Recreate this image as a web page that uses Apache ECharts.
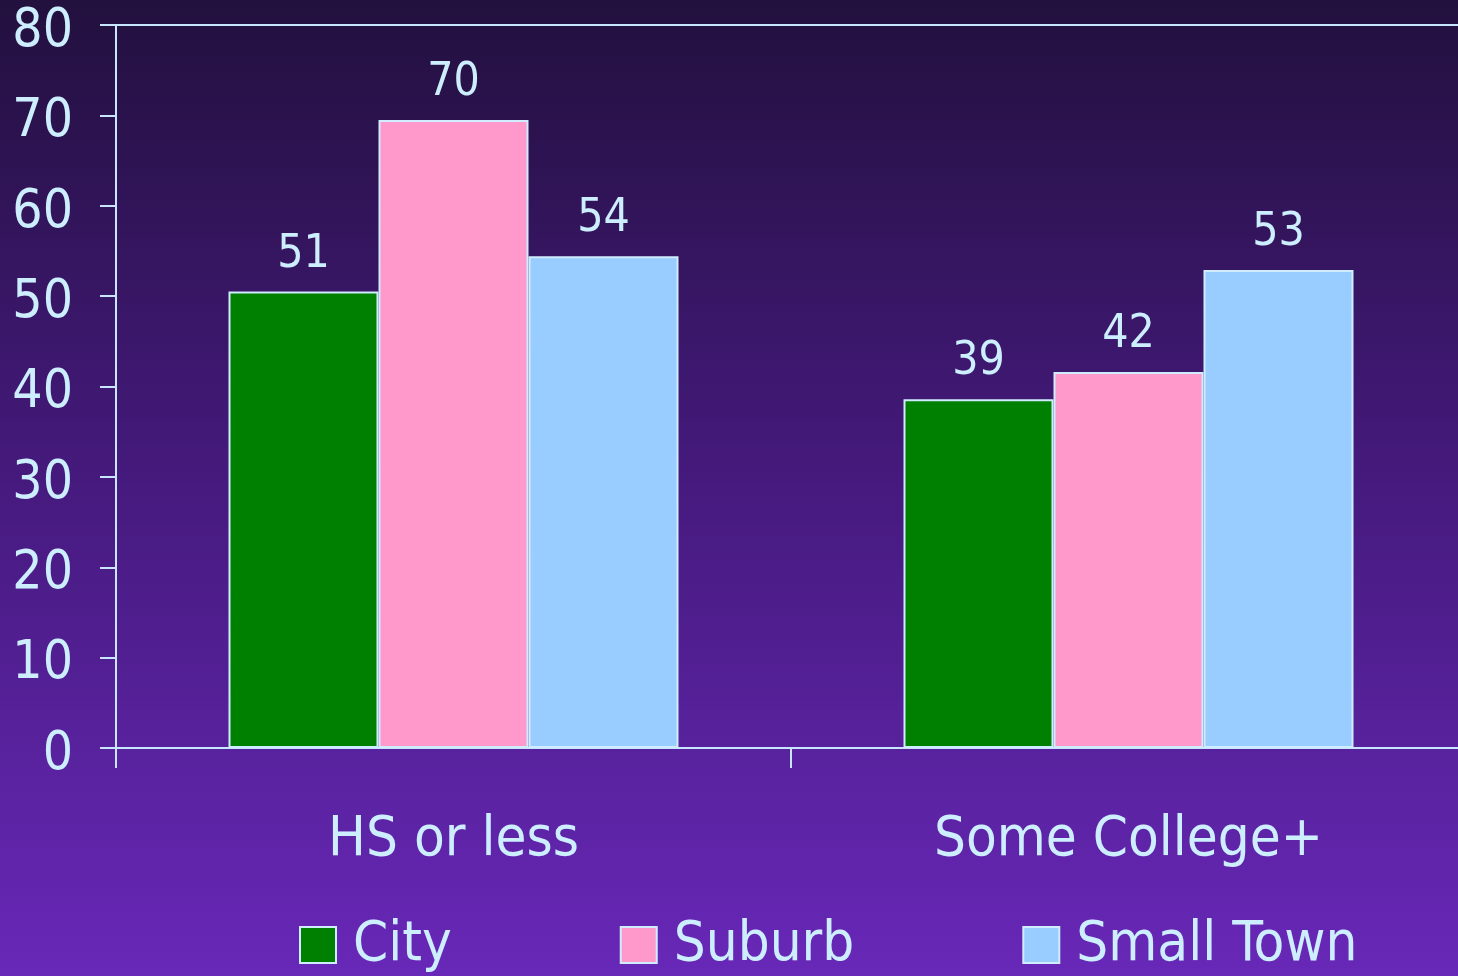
<!DOCTYPE html>
<html>
<head>
<meta charset="utf-8">
<script src="https://cdn.jsdelivr.net/npm/echarts@6/dist/echarts.min.js"></script>
<style>
html,body{margin:0;padding:0;width:1458px;height:976px;overflow:hidden;}
#chart{width:1466px;height:976px;}
</style>
</head>
<body>
<div id="chart"></div>
<script>
const categories = ['HS or less', 'Some College+'];
const seriesNames = ['City', 'Suburb', 'Small Town'];
const cityValues = [50.5, 38.6];
const suburbValues = [69.5, 41.6];
const smallTownValues = [54.4, 52.9];
const seriesColors = ['#008000', '#ff99cc', '#99ccff'];

const FONT = '"DejaVu Sans Condensed", "DejaVu Sans", sans-serif';
const TXT = '#cdeeff';
const LINE = '#c8e6ff';

const allValues = [cityValues, suburbValues, smallTownValues];

const chart = echarts.init(document.getElementById('chart'), null, {renderer: 'canvas'});
chart.setOption({
  animation: false,
  backgroundColor: {
    type: 'linear', x: 0, y: 0, x2: 0, y2: 1,
    colorStops: [
      {offset: 0, color: '#22103e'},
      {offset: 0.5, color: '#461a7e'},
      {offset: 1, color: '#6828b8'}
    ]
  },
  grid: {left: 116, right: 0, top: 25, bottom: 228, containLabel: false},
  legend: {
    data: seriesNames,
    left: 294, top: 909,
    itemWidth: 36, itemHeight: 36, itemGap: 168,
    icon: 'rect',
    textStyle: {color: TXT, fontFamily: FONT, fontSize: 56, lineHeight: 40, padding: [22, 0, 0, 12]}
  },
  xAxis: [{
    type: 'category',
    data: categories,
    position: 'bottom',
    axisLine: {show: true, lineStyle: {color: LINE, width: 2}},
    axisTick: {show: true, length: 20, lineStyle: {color: LINE, width: 2}},
    axisLabel: {color: TXT, fontFamily: FONT, fontSize: 56, lineHeight: 56, margin: 64}
  }, {
    type: 'category',
    data: categories,
    position: 'top',
    axisLine: {show: true, lineStyle: {color: LINE, width: 2}},
    axisTick: {show: false},
    axisLabel: {show: false}
  }],
  yAxis: {
    type: 'value',
    min: 0, max: 80, interval: 10,
    axisLine: {show: true, lineStyle: {color: LINE, width: 2}},
    axisTick: {show: true, length: 16, lineStyle: {color: LINE, width: 2}},
    splitLine: {show: false},
    axisLabel: {color: TXT, fontFamily: FONT, fontSize: 53, margin: 43, verticalAlign: 'top', lineHeight: 14}
  },
  series: seriesNames.map((name, i) => ({
    name: name,
    type: 'bar',
    data: allValues[i],
    barWidth: 150,
    barGap: '0%',
    itemStyle: {color: seriesColors[i], borderColor: '#d0ecff', borderWidth: 2},
    label: {
      show: true, position: 'top', distance: 14,
      color: TXT, fontFamily: FONT, fontSize: 46, lineHeight: 46,
      formatter: p => Math.round(p.value)
    }
  }))
});
</script>
</body>
</html>
